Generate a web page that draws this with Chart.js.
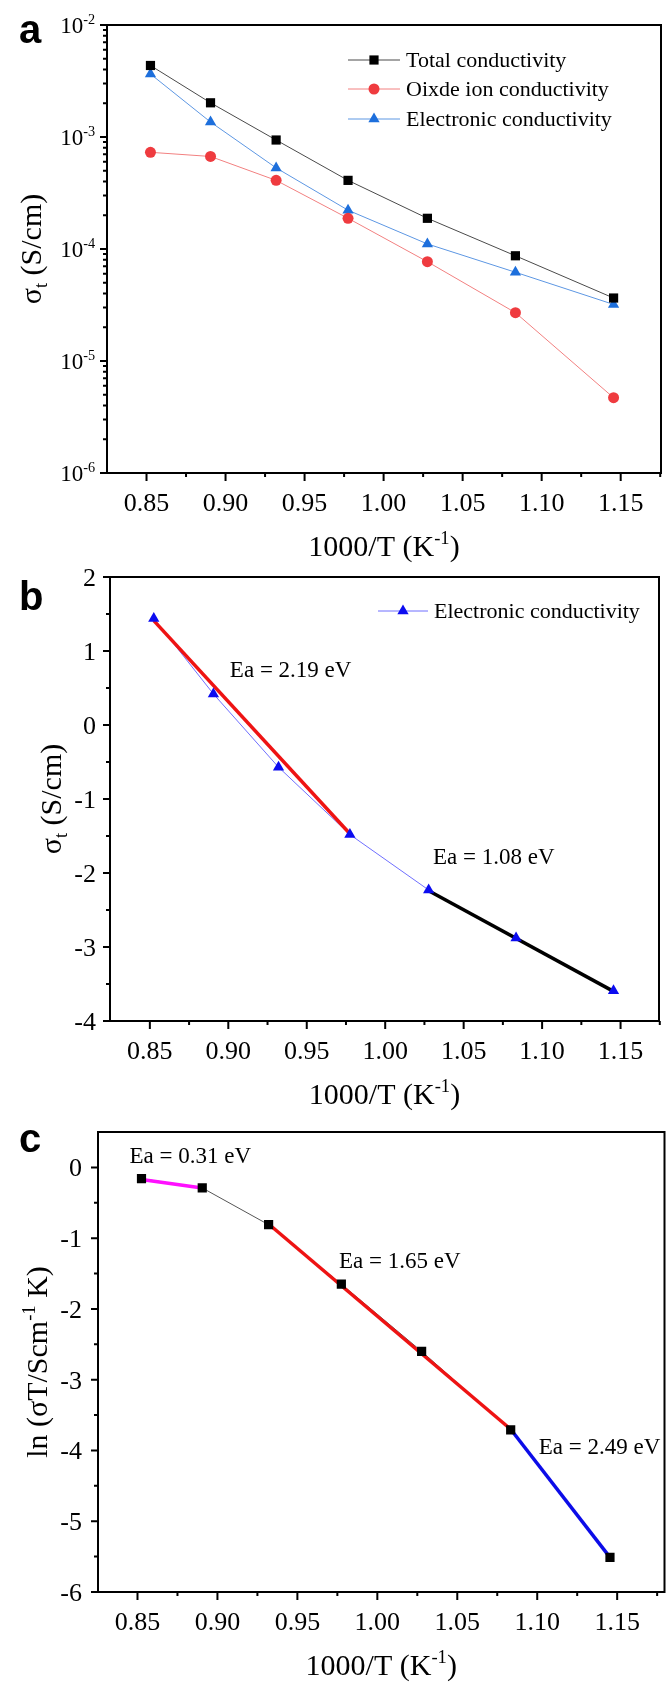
<!DOCTYPE html>
<html>
<head>
<meta charset="utf-8">
<script src="https://cdn.jsdelivr.net/npm/chart.js@4.4.0/dist/chart.umd.min.js"></script>
<style>
  body { margin: 0; background: #fff; }
  canvas { position: absolute; left: 0; }
</style>
</head>
<body>
<canvas id="chartA" width="671" height="580" style="top:0"></canvas>
<canvas id="chartB" width="671" height="580" style="top:560px"></canvas>
<canvas id="chartC" width="671" height="566" style="top:1120px"></canvas>
<script>
// 1000/T (K^-1), 900 … 600 °C
const invT = [0.8525, 0.8905, 0.9320, 0.9775, 1.0277, 1.0834, 1.1455];

// (a) conductivities in S/cm
const sigmaTotal = [4.35e-3, 2.02e-3, 9.4e-4, 4.1e-4, 1.88e-4, 8.7e-5, 3.65e-5];
const sigmaIon   = [7.3e-4, 6.7e-4, 4.1e-4, 1.88e-4, 7.7e-5, 2.7e-5, 4.7e-6];
const sigmaElec  = [3.65e-3, 1.36e-3, 5.3e-4, 2.22e-4, 1.11e-4, 6.2e-5, 3.2e-5];

// (b) electronic conductivity, Arrhenius form, with the two fits
const elecArr = [1.44, 0.42, -0.57, -1.48, -2.23, -2.88, -3.59];
const fitB1x = [0.8525, 0.9775], fitB1y = [1.41, -1.47];
const fitB2x = [1.0277, 1.1455], fitB2y = [-2.24, -3.60];

// (c) ln(sigma T) with three fits
const lnSigmaT = [-0.16, -0.29, -0.81, -1.65, -2.60, -3.71, -5.51];
const fitC1x = [0.8525, 0.8905], fitC1y = [-0.17, -0.29];
const fitC2x = [0.9320, 1.0834], fitC2y = [-0.80, -3.70];
const fitC3x = [1.0834, 1.1455], fitC3y = [-3.70, -5.51];

// tick values
const xTicks = [0.85, 0.90, 0.95, 1.00, 1.05, 1.10, 1.15];
const decadesA = [1e-6, 1e-5, 1e-4, 1e-3, 1e-2];
const yTicksB = [-4, -3, -2, -1, 0, 1, 2];
const yTicksC = [-6, -5, -4, -3, -2, -1, 0];

const SERIF = '"Liberation Serif", "Times New Roman", serif';
const SANS = '"Liberation Sans", Arial, sans-serif';

const xy = (xs, ys) => xs.map((x, i) => ({ x, y: ys[i] }));

function drawRich(ctx, parts, x, y, size, align) {
  let w = 0;
  parts.forEach(p => {
    ctx.font = (p.sup || p.sub ? size * 0.62 : size) + 'px ' + SERIF;
    p.w = ctx.measureText(p.t).width;
    w += p.w;
  });
  let cx = align === 'center' ? x - w / 2 : align === 'right' ? x - w : x;
  ctx.textAlign = 'left';
  ctx.textBaseline = 'alphabetic';
  parts.forEach(p => {
    ctx.font = (p.sup || p.sub ? size * 0.62 : size) + 'px ' + SERIF;
    const dy = p.sup ? -size * 0.4 : p.sub ? size * 0.2 : 0;
    ctx.fillText(p.t, cx, y + dy);
    cx += p.w;
  });
}

function marker(ctx, style, x, y, r, color) {
  ctx.fillStyle = color;
  ctx.beginPath();
  if (style === 'rect') {
    const s = r * Math.SQRT1_2;
    ctx.rect(x - s, y - s, 2 * s, 2 * s);
  } else if (style === 'triangle') {
    for (let k = 0; k < 3; k++) {
      const a = k * 2 * Math.PI / 3;
      ctx[k ? 'lineTo' : 'moveTo'](x + Math.sin(a) * r, y - Math.cos(a) * r);
    }
    ctx.closePath();
  } else {
    ctx.arc(x, y, r, 0, 2 * Math.PI);
  }
  ctx.fill();
}

// frame, tick marks, labels, titles, legend and notes for one panel
function decor(spec) {
  return {
    id: 'decor',
    afterDraw(chart) {
      const ctx = chart.ctx, a = chart.chartArea;
      const xs = chart.scales.x, ys = chart.scales.y;
      ctx.save();
      ctx.strokeStyle = '#000';
      ctx.lineWidth = 2;
      ctx.strokeRect(a.left, a.top, a.right - a.left, a.bottom - a.top);

      ctx.beginPath();
      xTicks.forEach(v => {
        const p = xs.getPixelForValue(v);
        ctx.moveTo(p, a.bottom); ctx.lineTo(p, a.bottom + 8);
        const q = xs.getPixelForValue(v + 0.025);
        if (q <= a.right + 1) { ctx.moveTo(q, a.bottom); ctx.lineTo(q, a.bottom + 4); }
      });
      spec.yMajor.forEach(v => {
        const p = ys.getPixelForValue(v);
        ctx.moveTo(a.left, p); ctx.lineTo(a.left - 7, p);
      });
      spec.yMinor.forEach(v => {
        const p = ys.getPixelForValue(v);
        if (p > a.top + 1 && p < a.bottom - 1) { ctx.moveTo(a.left, p); ctx.lineTo(a.left - 4, p); }
      });
      ctx.stroke();

      ctx.fillStyle = '#000';
      xTicks.forEach(v => {
        drawRich(ctx, [{ t: v.toFixed(2) }], xs.getPixelForValue(v), a.bottom + 29 + 0.34 * 26, 26, 'center');
      });
      spec.yMajor.forEach(v => {
        drawRich(ctx, spec.yLabel(v), a.left - spec.yGap, ys.getPixelForValue(v) + 0.34 * spec.ySize, spec.ySize, 'right');
      });

      // axis titles
      drawRich(ctx, [{ t: '1000/T (K' }, { t: '-1', sup: true }, { t: ')' }],
        (a.left + a.right) / 2, a.bottom + 83, 30, 'center');
      ctx.save();
      ctx.translate(spec.yTitleX, (a.top + a.bottom) / 2);
      ctx.rotate(-Math.PI / 2);
      drawRich(ctx, spec.yTitle, 0, 0.3 * 30, 30, 'center');
      ctx.restore();

      // panel letter
      ctx.font = 'bold 40px ' + SANS;
      ctx.textAlign = 'left';
      ctx.fillText(spec.letter, 19, spec.letterY);

      // legend
      (spec.legend || []).forEach((e, i) => {
        const ds = chart.data.datasets[e.ds];
        const y = e.y;
        ctx.strokeStyle = ds.borderColor;
        ctx.lineWidth = 1;
        ctx.beginPath(); ctx.moveTo(e.x0, y); ctx.lineTo(e.x1, y); ctx.stroke();
        marker(ctx, ds.pointStyle, (e.x0 + e.x1) / 2, y, ds.pointRadius, ds.pointBackgroundColor);
        ctx.fillStyle = '#000';
        drawRich(ctx, [{ t: ds.label }], e.x1 + 6, y + 0.3 * 22, 22, 'left');
      });

      // activation energies
      ctx.fillStyle = '#000';
      (spec.notes || []).forEach(n => {
        drawRich(ctx, [{ t: n.text }], xs.getPixelForValue(n.x), ys.getPixelForValue(n.y) + 0.33 * 23, 23, 'left');
      });
      ctx.restore();
    }
  };
}

function makeChart(id, box, yScale, datasets, spec) {
  const canvas = document.getElementById(id);
  return new Chart(canvas, {
    type: 'scatter',
    data: { datasets },
    options: {
      responsive: false,
      animation: false,
      events: [],
      layout: { padding: { left: 0, right: canvas.width - box.right, top: box.top, bottom: 0 } },
      plugins: { legend: { display: false }, tooltip: { enabled: false } },
      scales: {
        x: {
          type: 'linear', min: box.xMin, max: box.xMax,
          ticks: { display: false }, grid: { display: false }, border: { display: false },
          afterFit: s => { s.height = canvas.height - box.bottom; }
        },
        y: Object.assign({
          ticks: { display: false }, grid: { display: false }, border: { display: false },
          afterFit: s => { s.width = box.left; }
        }, yScale)
      }
    },
    plugins: [decor(spec)]
  });
}

const lineOnly = (data, color, width, order) => ({
  data, showLine: true, borderColor: color, borderWidth: width, pointRadius: 0, order
});

// (a)
const dsTotal = { label: 'Total conductivity', data: xy(invT, sigmaTotal), showLine: true,
  borderColor: '#4a4a4a', borderWidth: 1, pointStyle: 'rect', pointRadius: 6.5,
  pointBackgroundColor: '#000', pointBorderWidth: 0 };
const dsIon = { label: 'Oixde ion conductivity', data: xy(invT, sigmaIon), showLine: true,
  borderColor: '#f28080', borderWidth: 1, pointStyle: 'circle', pointRadius: 5.5,
  pointBackgroundColor: '#ef3b3f', pointBorderWidth: 0 };
const dsElec = { label: 'Electronic conductivity', data: xy(invT, sigmaElec), showLine: true,
  borderColor: '#5d97e3', borderWidth: 1, pointStyle: 'triangle', pointRadius: 6.5,
  pointBackgroundColor: '#1d6fdc', pointBorderWidth: 0 };

makeChart('chartA', { left: 107, right: 661, top: 25, bottom: 473, xMin: 0.825, xMax: 1.1755 },
  { type: 'logarithmic', min: 1e-6, max: 1e-2 },
  [dsTotal, dsIon, dsElec],
  {
    yMajor: decadesA,
    yMinor: decadesA.slice(0, -1).flatMap(d => [2, 3, 4, 5, 6, 7, 8, 9].map(k => k * d)),
    yLabel: v => [{ t: '10' }, { t: String(Math.round(Math.log10(v))), sup: true }],
    ySize: 23, yGap: 12,
    yTitle: [{ t: 'σ' }, { t: 't', sub: true }, { t: ' (S/cm)' }], yTitleX: 32,
    letter: 'a', letterY: 43,
    legend: [
      { ds: 0, x0: 348, x1: 400, y: 60 },
      { ds: 1, x0: 348, x1: 400, y: 89 },
      { ds: 2, x0: 348, x1: 400, y: 119 }
    ]
  });

// (b)
makeChart('chartB', { left: 110, right: 659, top: 17, bottom: 461, xMin: 0.8246, xMax: 1.1745 },
  { type: 'linear', min: -4, max: 2 },
  [
    { label: 'Electronic conductivity', data: xy(invT, elecArr), showLine: false,
      borderColor: '#6f6fff', pointStyle: 'triangle', pointRadius: 6.5,
      pointBackgroundColor: '#0c0cf0', pointBorderWidth: 0, order: 0 },
    lineOnly(xy(fitB1x, fitB1y), '#ee1313', 3.5, 1),
    lineOnly(xy(fitB2x, fitB2y), '#000', 3.5, 1),
    lineOnly(xy(invT, elecArr), '#6f6fff', 1, 2)
  ],
  {
    yMajor: yTicksB,
    yMinor: yTicksB.map(v => v + 0.5),
    yLabel: v => [{ t: String(v) }],
    ySize: 26, yGap: 14,
    yTitle: [{ t: 'σ' }, { t: 't', sub: true }, { t: ' (S/cm)' }], yTitleX: 52,
    letter: 'b', letterY: 50,
    legend: [{ ds: 0, x0: 378, x1: 428, y: 51 }],
    notes: [
      { text: 'Ea = 2.19 eV', x: 0.901, y: 0.75 },
      { text: 'Ea = 1.08 eV', x: 1.0305, y: -1.77 }
    ]
  });

// (c)
makeChart('chartC', { left: 98, right: 669, top: 12, bottom: 472, xMin: 0.8253, xMax: 1.1796 },
  { type: 'linear', min: -6, max: 0.5 },
  [
    { label: 'ln', data: xy(invT, lnSigmaT), showLine: false, pointStyle: 'rect',
      pointRadius: 6.5, pointBackgroundColor: '#000', pointBorderWidth: 0, order: 0 },
    lineOnly(xy(fitC1x, fitC1y), '#ff10ff', 3.5, 1),
    lineOnly(xy(fitC2x, fitC2y), '#ee1313', 3.5, 1),
    lineOnly(xy(fitC3x, fitC3y), '#0c0ce8', 3.5, 1),
    lineOnly(xy(invT, lnSigmaT), '#555', 1, 2)
  ],
  {
    yMajor: yTicksC,
    yMinor: yTicksC.map(v => v + 0.5),
    yLabel: v => [{ t: String(v) }],
    ySize: 26, yGap: 16,
    yTitle: [{ t: 'ln (σT/Scm' }, { t: '-1', sup: true }, { t: ' K)' }], yTitleX: 38,
    letter: 'c', letterY: 32,
    notes: [
      { text: 'Ea = 0.31 eV', x: 0.845, y: 0.175 },
      { text: 'Ea = 1.65 eV', x: 0.976, y: -1.31 },
      { text: 'Ea = 2.49 eV', x: 1.101, y: -3.94 }
    ]
  });
</script>
</body>
</html>
